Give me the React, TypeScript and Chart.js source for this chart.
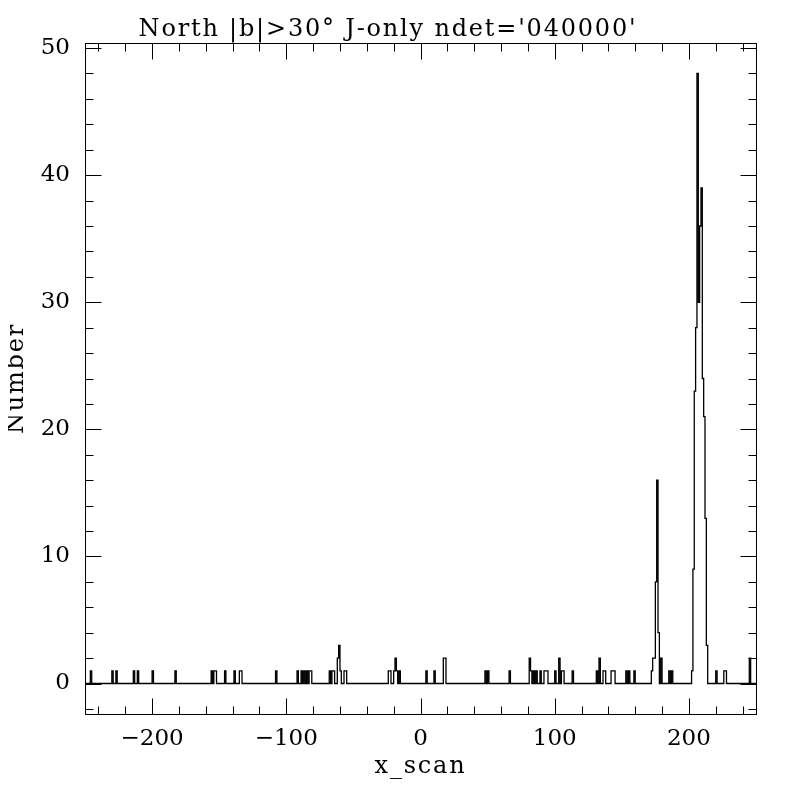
import React, { useEffect, useRef } from "react";
import { Chart, Plugin, registerables } from "chart.js";

Chart.register(...registerables);

const TITLE = "North |b|>30\u00b0 J-only ndet='040000'";
const X_LABEL = "x_scan";
const Y_LABEL = "Number";

// histogram range (x_scan units) and axis limits
const X_MIN = -250;
const X_MAX = 250;
const BIN_WIDTH = 1;
const Y_MIN = -2.4;
const Y_MAX = 50.4;

// left edges of the non-empty bins
const binStarts = [
  -246, -230, -227, -214, -211, -200, -183,
  -156, -154, -153, -146, -139, -135, -134, -108,
  -92, -89, -87, -85, -83, -82,
  -68, -66, -65, -62, -61, -60, -57, -56,
  -24, -23, -20, -19, -18, -16,
  4, 10, 17, 18, 48, 50, 66,
  81, 82, 84, 86, 89, 92, 93, 94,
  100, 103, 105, 106, 113,
  131, 133, 136, 137, 142, 143, 144, 153, 155, 159,
  172, 173, 174, 175, 176, 177, 179, 185, 187,
  202, 203, 204, 205, 206, 207, 208, 209, 210, 211, 212, 213,
  220, 226, 227, 245,
];

// counts in those bins
const binCounts = [
  1, 1, 1, 1, 1, 1, 1,
  1, 1, 1, 1, 1, 1, 1, 1,
  1, 1, 1, 1, 1, 1,
  1, 1, 1, 2, 3, 1, 1, 1,
  1, 1, 1, 2, 1, 1,
  1, 1, 2, 2, 1, 1, 1,
  2, 1, 1, 1, 1, 1, 1, 1,
  1, 2, 1, 1, 1,
  1, 2, 1, 1, 1, 1, 1, 1, 1, 1,
  1, 2, 2, 8, 16, 4, 2, 1, 1,
  1, 9, 23, 28, 48, 30, 36, 39, 24, 21, 13, 3,
  1, 1, 1, 2,
];

const xMajorTicks = [-200, -100, 0, 100, 200];
const yMajorTicks = [0, 10, 20, 30, 40, 50];
const X_MINOR_STEP = 20;
const Y_MINOR_STEP = 2;

const FONT = "'DejaVu Serif', serif";

function histogramSteps() {
  const lookup = new Map<number, number>();
  binStarts.forEach((x, i) => lookup.set(x, binCounts[i]));
  const pts: { x: number; y: number }[] = [];
  for (let x = X_MIN; x < X_MAX; x += BIN_WIDTH) {
    pts.push({ x, y: lookup.get(x) ?? 0 });
  }
  pts.push({ x: X_MAX, y: pts[pts.length - 1].y });
  return pts;
}

const minus = (v: number) => (v < 0 ? "\u2212" + Math.abs(v) : String(v));

// snap to pixel centre so 1px strokes stay crisp
const crisp = (v: number) => Math.round(v) + 0.5;

// pgplot-like box: frame, inward ticks on all sides, labels
const boxPlugin: Plugin<"line"> = {
  id: "pgBox",
  afterDraw(chart) {
    const { ctx, chartArea: a } = chart;
    const xs = chart.scales.x;
    const ys = chart.scales.y;
    const major = 16;
    const minor = 8;
    const l = crisp(a.left);
    const r = crisp(a.right);
    const t = crisp(a.top);
    const b = crisp(a.bottom);

    ctx.save();
    ctx.strokeStyle = "#000";
    ctx.lineWidth = 1;
    ctx.strokeRect(l, t, r - l, b - t);

    ctx.beginPath();
    const xStart = Math.ceil(X_MIN / X_MINOR_STEP) * X_MINOR_STEP;
    for (let v = xStart; v <= X_MAX; v += X_MINOR_STEP) {
      const len = xMajorTicks.includes(v) ? major : minor;
      const px = crisp(xs.getPixelForValue(v));
      ctx.moveTo(px, b);
      ctx.lineTo(px, b - len);
      ctx.moveTo(px, t);
      ctx.lineTo(px, t + len);
    }
    const yStart = Math.ceil(Y_MIN / Y_MINOR_STEP) * Y_MINOR_STEP;
    for (let v = yStart; v <= Y_MAX; v += Y_MINOR_STEP) {
      const len = yMajorTicks.includes(v) ? major : minor;
      const py = crisp(ys.getPixelForValue(v));
      ctx.moveTo(l, py);
      ctx.lineTo(l + len, py);
      ctx.moveTo(r, py);
      ctx.lineTo(r - len, py);
    }
    ctx.stroke();

    ctx.fillStyle = "#000";
    ctx.font = `24px ${FONT}`;
    (ctx as any).letterSpacing = "1.8px";
    ctx.textAlign = "center";
    ctx.textBaseline = "alphabetic";
    ctx.fillText(TITLE, 380, 28);
    ctx.fillText(X_LABEL, (a.left + a.right) / 2, 765);
    ctx.translate(15, (a.top + a.bottom) / 2);
    ctx.rotate(-Math.PI / 2);
    ctx.fillText(Y_LABEL, 0, 0);
    ctx.restore();
  },
};

const App: React.FC = () => {
  const canvasRef = useRef<HTMLCanvasElement | null>(null);

  useEffect(() => {
    const canvas = canvasRef.current;
    if (!canvas) return;

    const chart = new Chart(canvas, {
      type: "line",
      data: {
        datasets: [
          {
            data: histogramSteps(),
            stepped: "before",
            borderColor: "#000",
            borderWidth: 1.3,
            pointRadius: 0,
            fill: false,
          },
        ],
      },
      options: {
        animation: false,
        responsive: true,
        maintainAspectRatio: false,
        events: [],
        layout: { padding: { top: 35, right: 36, bottom: 0, left: 0 } },
        plugins: {
          legend: { display: false },
          tooltip: { enabled: false },
          title: { display: false },
        },
        scales: {
          x: {
            type: "linear",
            min: X_MIN,
            max: X_MAX,
            grid: { display: false, drawTicks: false },
            border: { display: false },
            afterBuildTicks: (s) => {
              s.ticks = xMajorTicks.map((value) => ({ value }));
            },
            afterFit: (s) => {
              s.height = 78;
            },
            ticks: {
              padding: 11,
              color: "#000",
              maxRotation: 0,
              autoSkip: false,
              font: { family: FONT, size: 23 },
              callback: (v) => minus(Number(v)),
            },
          },
          y: {
            type: "linear",
            min: Y_MIN,
            max: Y_MAX,
            grid: { display: false, drawTicks: false },
            border: { display: false },
            afterBuildTicks: (s) => {
              s.ticks = yMajorTicks.map((value) => ({ value }));
            },
            afterFit: (s) => {
              s.width = 77;
            },
            ticks: {
              padding: 15,
              color: "#000",
              autoSkip: false,
              font: { family: FONT, size: 23 },
              callback: (v) => minus(Number(v)),
            },
          },
        },
      },
      plugins: [boxPlugin],
    });

    return () => {
      chart.destroy();
    };
  }, []);

  return (
    <div style={{ width: 784, height: 784 }}>
      <canvas ref={canvasRef} />
    </div>
  );
};

export default App;
